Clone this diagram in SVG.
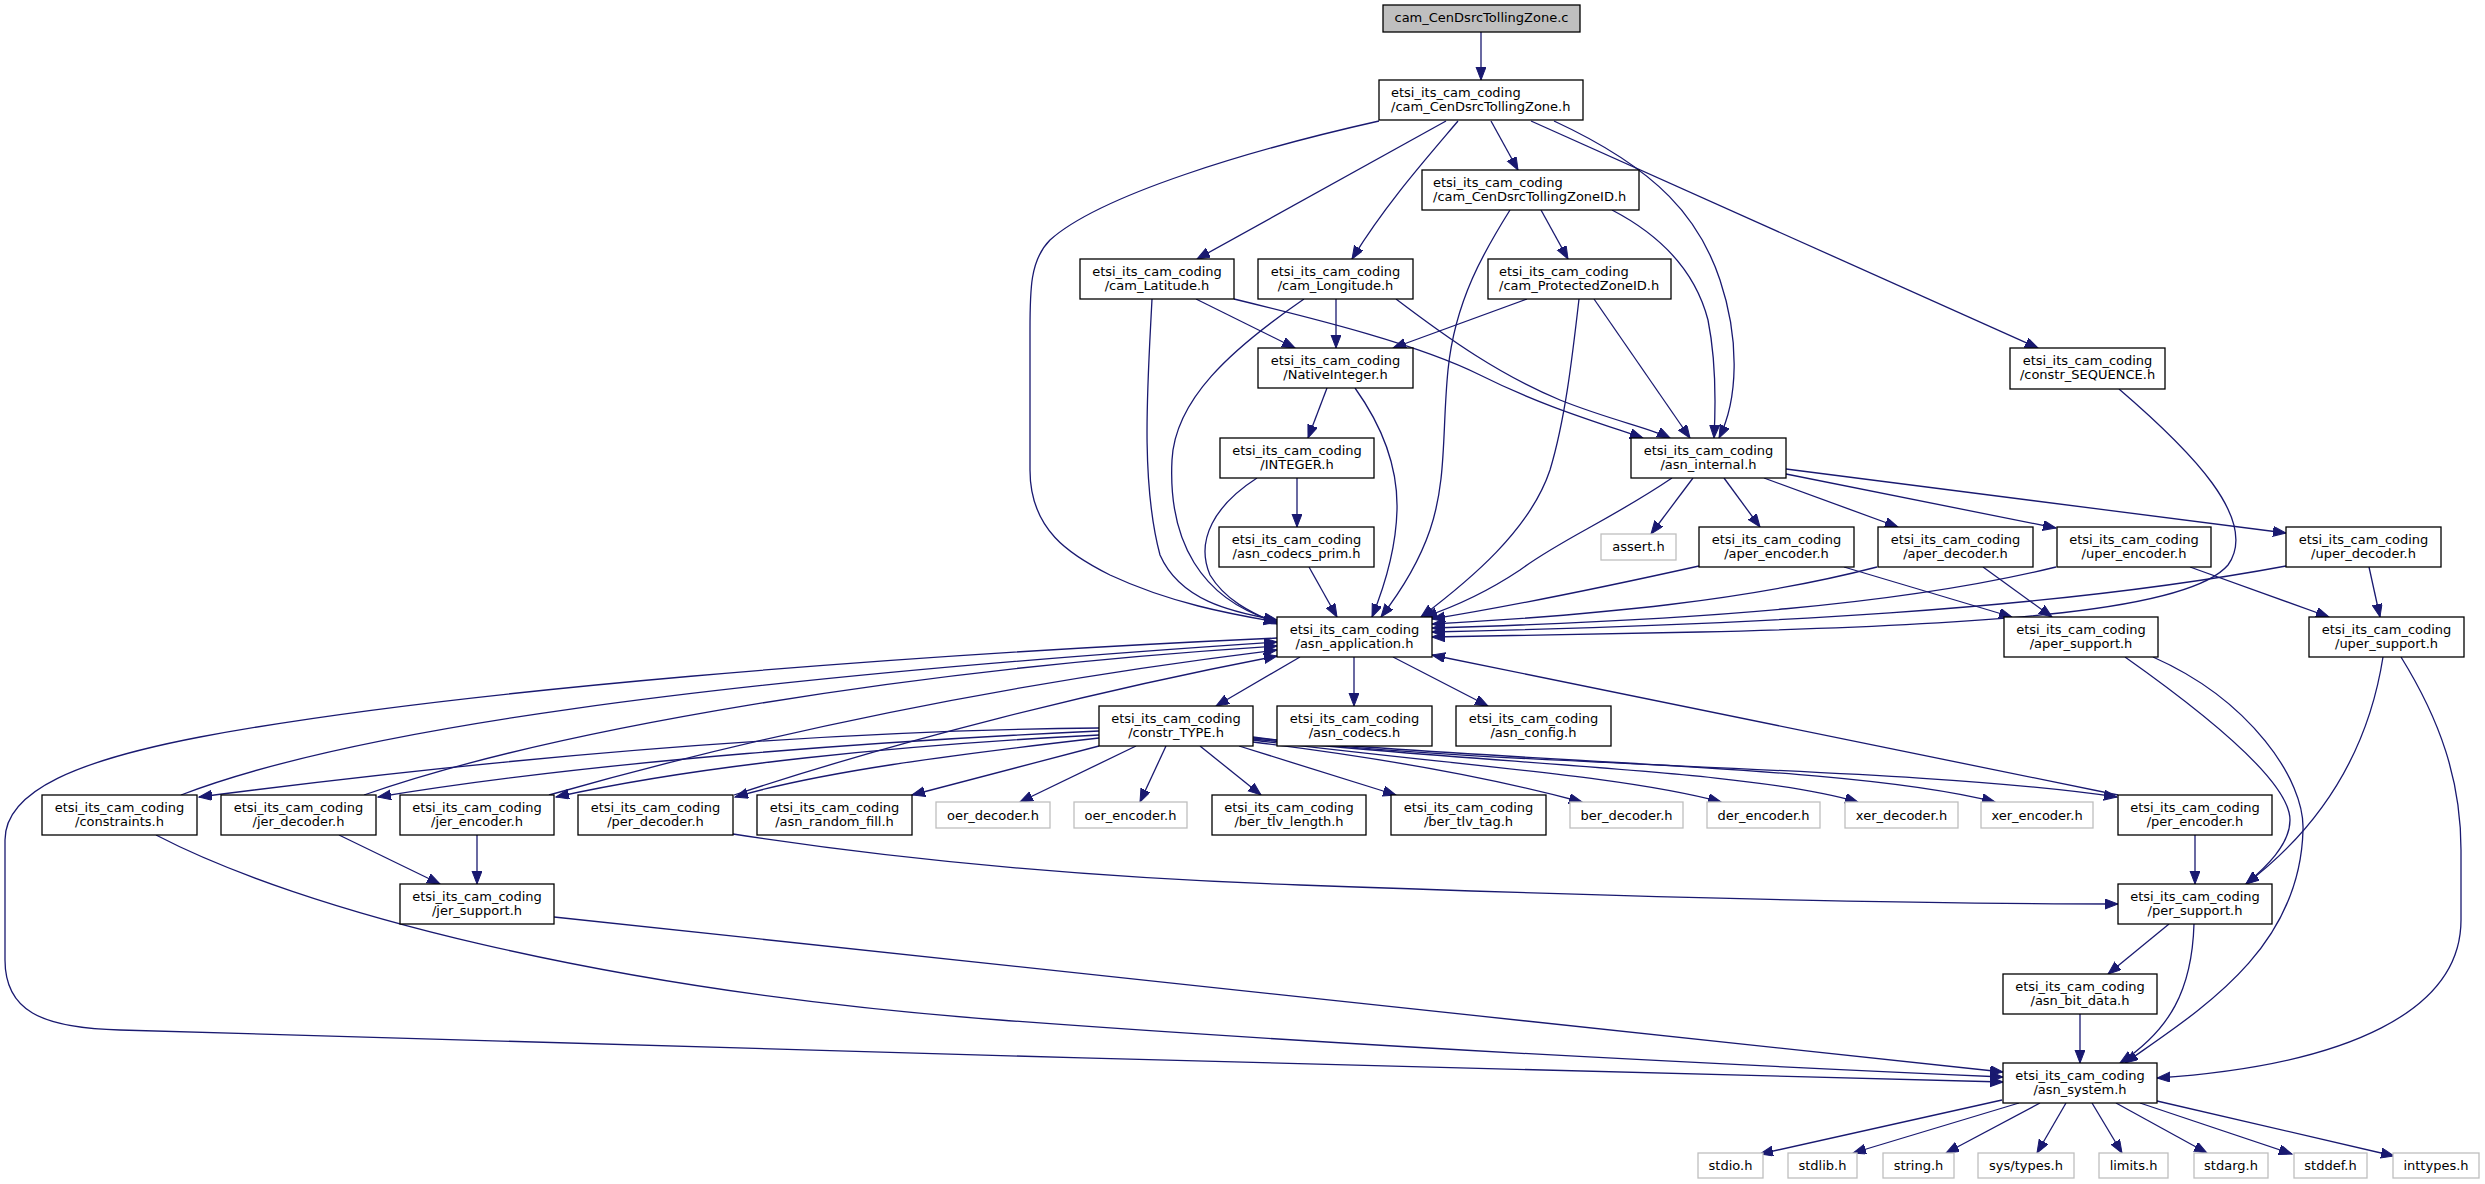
<svg xmlns="http://www.w3.org/2000/svg" width="2485" height="1184" viewBox="0 0 2485 1184">
<style>
.n rect{fill:#ffffff;stroke:#000000;stroke-width:1.3}
.x rect{fill:#ffffff;stroke:#bfbfbf;stroke-width:1.3}
.r rect{fill:#bfbfbf;stroke:#000000;stroke-width:1.3}
text{font-family:"DejaVu Sans","Liberation Sans",sans-serif;font-size:13px;fill:#000000;text-anchor:middle}
text.l{text-anchor:start}
#edges path{fill:none;stroke:#191970;stroke-width:1.3;marker-end:url(#a)}
</style>
<defs>
<marker id="a" markerUnits="userSpaceOnUse" markerWidth="14" markerHeight="11" refX="13" refY="5" orient="auto">
<path d="M0,0 L13,5 L0,10 z" fill="#191970" stroke="#191970" stroke-width="1"/>
</marker>
</defs>
<rect width="2485" height="1184" fill="#ffffff"/>
<g id="edges">
<path d="M1481,32 L1481,80"/>
<path d="M1379,121 C1250,150 1100,195 1050,240 C1030,260 1030,290 1030,330 L1030,470 C1030,530 1070,555 1110,575 C1170,603 1230,614 1277,622"/>
<path d="M1446,121 L1197,259"/>
<path d="M1458,121 C1425,160 1385,205 1352,259"/>
<path d="M1491,121 L1518,170"/>
<path d="M1554,121 C1660,170 1700,220 1720,280 C1740,340 1738,400 1719,438"/>
<path d="M1531,121 L2038,348"/>
<path d="M1510,210 C1485,250 1455,300 1448,370 C1442,430 1447,480 1430,530 C1418,565 1398,595 1381,617"/>
<path d="M1541,210 L1568,259"/>
<path d="M1612,210 C1660,235 1695,270 1708,320 C1716,360 1716,400 1714,438"/>
<path d="M1152,299 C1148,380 1140,480 1160,555 C1180,600 1230,612 1277,620"/>
<path d="M1196,299 L1295,348"/>
<path d="M1234,299 C1320,320 1420,345 1480,375 C1540,405 1590,420 1643,438"/>
<path d="M1304,299 C1230,350 1175,400 1172,460 C1168,540 1200,600 1277,622"/>
<path d="M1336,299 L1336,348"/>
<path d="M1396,299 C1450,340 1500,375 1560,400 C1610,420 1650,428 1670,438"/>
<path d="M1527,299 L1393,348"/>
<path d="M1579,299 C1572,360 1565,420 1550,470 C1530,530 1470,580 1421,617"/>
<path d="M1594,299 L1690,438"/>
<path d="M1327,388 L1308,438"/>
<path d="M1355,388 C1385,430 1398,470 1397,510 C1396,550 1385,585 1372,617"/>
<path d="M1297,478 L1297,527"/>
<path d="M1257,478 C1215,505 1195,540 1210,575 C1225,600 1250,612 1277,624"/>
<path d="M1309,567 L1337,617"/>
<path d="M2119,389 C2190,450 2260,520 2228,565 C2190,610 2000,625 1700,632 C1580,634 1490,636 1432,637"/>
<path d="M1672,478 C1610,520 1560,540 1520,570 C1490,590 1460,605 1424,617"/>
<path d="M1693,478 L1651,534"/>
<path d="M1724,478 L1760,527"/>
<path d="M1764,478 L1898,527"/>
<path d="M1786,474 L2056,528"/>
<path d="M1786,469 L2286,533"/>
<path d="M1699,566 C1600,588 1500,608 1432,619"/>
<path d="M1844,567 L2012,617"/>
<path d="M1877,567 C1750,600 1600,615 1432,624"/>
<path d="M1983,567 L2052,617"/>
<path d="M2056,567 C1900,605 1700,620 1432,628"/>
<path d="M2190,567 L2329,617"/>
<path d="M2286,566 C2050,610 1750,625 1432,632"/>
<path d="M2369,567 L2380,617"/>
<path d="M2125,657 C2200,710 2290,780 2290,820 C2290,845 2265,868 2246,884"/>
<path d="M2153,657 C2250,700 2305,780 2303,830 C2300,950 2200,1010 2125,1063"/>
<path d="M2383,657 C2370,740 2330,820 2246,884"/>
<path d="M2401,657 C2440,720 2461,780 2461,850 L2461,920 C2461,1010 2350,1065 2157,1078"/>
<path d="M1300,657 L1216,706"/>
<path d="M1354,657 L1354,706"/>
<path d="M1393,657 L1488,706"/>
<path d="M1277,638 C900,655 450,690 200,737 C80,760 5,790 5,840 L5,960 C5,1010 40,1028 120,1030 C600,1045 1500,1070 2003,1082"/>
<path d="M1099,728 C900,730 600,745 199,797"/>
<path d="M1099,731 C900,740 600,760 378,797"/>
<path d="M1099,735 C900,745 700,765 556,797"/>
<path d="M1099,738 C950,755 820,772 735,797"/>
<path d="M1099,746 L912,795"/>
<path d="M1136,746 L1020,802"/>
<path d="M1166,746 L1140,802"/>
<path d="M1200,746 L1261,795"/>
<path d="M1239,746 L1396,795"/>
<path d="M1253,742 C1400,760 1500,780 1582,802"/>
<path d="M1253,740 C1450,765 1620,775 1721,802"/>
<path d="M1253,739 C1500,765 1750,770 1858,802"/>
<path d="M1253,738 C1550,765 1850,765 1995,802"/>
<path d="M1253,737 C1500,768 1900,765 2117,797"/>
<path d="M181,795 C350,730 700,680 1277,642"/>
<path d="M156,835 C300,910 600,990 1000,1020 C1400,1050 1800,1068 2003,1077"/>
<path d="M364,795 C550,730 900,670 1277,646"/>
<path d="M339,835 L440,884"/>
<path d="M549,795 C700,752 950,690 1277,650"/>
<path d="M477,835 L477,884"/>
<path d="M734,795 C900,740 1100,690 1277,656"/>
<path d="M733,834 C900,860 1100,878 1300,885 C1600,896 1900,904 2118,904"/>
<path d="M2118,795 L1432,655"/>
<path d="M2195,835 L2195,884"/>
<path d="M554,917 L2003,1072"/>
<path d="M2169,924 L2108,974"/>
<path d="M2194,924 C2192,990 2170,1030 2120,1063"/>
<path d="M2080,1014 L2080,1063"/>
<path d="M2002,1100 L1760,1154"/>
<path d="M2019,1103 L1853,1153"/>
<path d="M2040,1103 L1946,1153"/>
<path d="M2066,1103 L2037,1153"/>
<path d="M2092,1103 L2122,1153"/>
<path d="M2116,1103 L2207,1153"/>
<path d="M2140,1103 L2292,1154"/>
<path d="M2157,1101 L2394,1156"/>
</g>
<g id="node_c" class="r"><rect x="1383" y="5" width="197" height="27"/><text x="1481.5" y="22">cam_CenDsrcTollingZone.c</text></g>
<g id="node_ctz" class="n"><rect x="1379" y="80" width="204" height="40"/><text class="l" x="1391" y="96.5">etsi_its_cam_coding</text><text class="l" x="1391" y="111">/cam_CenDsrcTollingZone.h</text></g>
<g id="node_ctzid" class="n"><rect x="1422" y="170" width="217" height="40"/><text class="l" x="1433" y="186.5">etsi_its_cam_coding</text><text class="l" x="1433" y="201">/cam_CenDsrcTollingZoneID.h</text></g>
<g id="node_lat" class="n"><rect x="1080" y="259" width="154" height="40"/><text x="1157" y="275.5">etsi_its_cam_coding</text><text x="1157" y="290">/cam_Latitude.h</text></g>
<g id="node_lon" class="n"><rect x="1258" y="259" width="155" height="40"/><text x="1335.5" y="275.5">etsi_its_cam_coding</text><text x="1335.5" y="290">/cam_Longitude.h</text></g>
<g id="node_pz" class="n"><rect x="1488" y="259" width="183" height="40"/><text class="l" x="1499" y="275.5">etsi_its_cam_coding</text><text class="l" x="1499" y="290">/cam_ProtectedZoneID.h</text></g>
<g id="node_nat" class="n"><rect x="1258" y="348" width="155" height="40"/><text x="1335.5" y="364.5">etsi_its_cam_coding</text><text x="1335.5" y="379">/NativeInteger.h</text></g>
<g id="node_seq" class="n"><rect x="2010" y="348" width="155" height="41"/><text x="2087.5" y="364.5">etsi_its_cam_coding</text><text x="2087.5" y="379">/constr_SEQUENCE.h</text></g>
<g id="node_integer" class="n"><rect x="1220" y="438" width="154" height="40"/><text x="1297" y="454.5">etsi_its_cam_coding</text><text x="1297" y="469">/INTEGER.h</text></g>
<g id="node_internal" class="n"><rect x="1631" y="438" width="155" height="40"/><text x="1708.5" y="454.5">etsi_its_cam_coding</text><text x="1708.5" y="469">/asn_internal.h</text></g>
<g id="node_codecs_prim" class="n"><rect x="1219" y="527" width="155" height="40"/><text x="1296.5" y="543.5">etsi_its_cam_coding</text><text x="1296.5" y="558">/asn_codecs_prim.h</text></g>
<g id="node_assert" class="x"><rect x="1601" y="534" width="75" height="26"/><text x="1638.5" y="551">assert.h</text></g>
<g id="node_aper_enc" class="n"><rect x="1699" y="527" width="155" height="40"/><text x="1776.5" y="543.5">etsi_its_cam_coding</text><text x="1776.5" y="558">/aper_encoder.h</text></g>
<g id="node_aper_dec" class="n"><rect x="1878" y="527" width="155" height="40"/><text x="1955.5" y="543.5">etsi_its_cam_coding</text><text x="1955.5" y="558">/aper_decoder.h</text></g>
<g id="node_uper_enc" class="n"><rect x="2057" y="527" width="154" height="40"/><text x="2134" y="543.5">etsi_its_cam_coding</text><text x="2134" y="558">/uper_encoder.h</text></g>
<g id="node_uper_dec" class="n"><rect x="2286" y="527" width="155" height="40"/><text x="2363.5" y="543.5">etsi_its_cam_coding</text><text x="2363.5" y="558">/uper_decoder.h</text></g>
<g id="node_app" class="n"><rect x="1277" y="617" width="155" height="40"/><text x="1354.5" y="633.5">etsi_its_cam_coding</text><text x="1354.5" y="648">/asn_application.h</text></g>
<g id="node_aper_sup" class="n"><rect x="2004" y="617" width="154" height="40"/><text x="2081" y="633.5">etsi_its_cam_coding</text><text x="2081" y="648">/aper_support.h</text></g>
<g id="node_uper_sup" class="n"><rect x="2309" y="617" width="155" height="40"/><text x="2386.5" y="633.5">etsi_its_cam_coding</text><text x="2386.5" y="648">/uper_support.h</text></g>
<g id="node_constr_type" class="n"><rect x="1099" y="706" width="154" height="40"/><text x="1176" y="722.5">etsi_its_cam_coding</text><text x="1176" y="737">/constr_TYPE.h</text></g>
<g id="node_asn_codecs" class="n"><rect x="1277" y="706" width="155" height="40"/><text x="1354.5" y="722.5">etsi_its_cam_coding</text><text x="1354.5" y="737">/asn_codecs.h</text></g>
<g id="node_asn_config" class="n"><rect x="1456" y="706" width="155" height="40"/><text x="1533.5" y="722.5">etsi_its_cam_coding</text><text x="1533.5" y="737">/asn_config.h</text></g>
<g id="node_constraints" class="n"><rect x="42" y="795" width="155" height="40"/><text x="119.5" y="811.5">etsi_its_cam_coding</text><text x="119.5" y="826">/constraints.h</text></g>
<g id="node_jer_dec" class="n"><rect x="221" y="795" width="155" height="40"/><text x="298.5" y="811.5">etsi_its_cam_coding</text><text x="298.5" y="826">/jer_decoder.h</text></g>
<g id="node_jer_enc" class="n"><rect x="400" y="795" width="154" height="40"/><text x="477" y="811.5">etsi_its_cam_coding</text><text x="477" y="826">/jer_encoder.h</text></g>
<g id="node_per_dec" class="n"><rect x="578" y="795" width="155" height="40"/><text x="655.5" y="811.5">etsi_its_cam_coding</text><text x="655.5" y="826">/per_decoder.h</text></g>
<g id="node_rand_fill" class="n"><rect x="757" y="795" width="155" height="40"/><text x="834.5" y="811.5">etsi_its_cam_coding</text><text x="834.5" y="826">/asn_random_fill.h</text></g>
<g id="node_oer_dec" class="x"><rect x="936" y="802" width="114" height="26"/><text x="993" y="819.5">oer_decoder.h</text></g>
<g id="node_oer_enc" class="x"><rect x="1074" y="802" width="113" height="26"/><text x="1130.5" y="819.5">oer_encoder.h</text></g>
<g id="node_ber_len" class="n"><rect x="1212" y="795" width="154" height="40"/><text x="1289" y="811.5">etsi_its_cam_coding</text><text x="1289" y="826">/ber_tlv_length.h</text></g>
<g id="node_ber_tag" class="n"><rect x="1391" y="795" width="155" height="40"/><text x="1468.5" y="811.5">etsi_its_cam_coding</text><text x="1468.5" y="826">/ber_tlv_tag.h</text></g>
<g id="node_ber_dec" class="x"><rect x="1570" y="802" width="113" height="26"/><text x="1626.5" y="819.5">ber_decoder.h</text></g>
<g id="node_der_enc" class="x"><rect x="1707" y="802" width="113" height="26"/><text x="1763.5" y="819.5">der_encoder.h</text></g>
<g id="node_xer_dec" class="x"><rect x="1845" y="802" width="113" height="26"/><text x="1901.5" y="819.5">xer_decoder.h</text></g>
<g id="node_xer_enc" class="x"><rect x="1981" y="802" width="112" height="26"/><text x="2037" y="819.5">xer_encoder.h</text></g>
<g id="node_per_enc" class="n"><rect x="2118" y="795" width="154" height="40"/><text x="2195" y="811.5">etsi_its_cam_coding</text><text x="2195" y="826">/per_encoder.h</text></g>
<g id="node_jer_sup" class="n"><rect x="400" y="884" width="154" height="40"/><text x="477" y="900.5">etsi_its_cam_coding</text><text x="477" y="915">/jer_support.h</text></g>
<g id="node_per_sup" class="n"><rect x="2118" y="884" width="154" height="40"/><text x="2195" y="900.5">etsi_its_cam_coding</text><text x="2195" y="915">/per_support.h</text></g>
<g id="node_bit_data" class="n"><rect x="2003" y="974" width="154" height="40"/><text x="2080" y="990.5">etsi_its_cam_coding</text><text x="2080" y="1005">/asn_bit_data.h</text></g>
<g id="node_asn_system" class="n"><rect x="2003" y="1063" width="154" height="40"/><text x="2080" y="1079.5">etsi_its_cam_coding</text><text x="2080" y="1094">/asn_system.h</text></g>
<g id="node_stdio" class="x"><rect x="1698" y="1153" width="65" height="25"/><text x="1730.5" y="1170">stdio.h</text></g>
<g id="node_stdlib" class="x"><rect x="1788" y="1153" width="69" height="25"/><text x="1822.5" y="1170">stdlib.h</text></g>
<g id="node_string" class="x"><rect x="1883" y="1153" width="71" height="25"/><text x="1918.5" y="1170">string.h</text></g>
<g id="node_systypes" class="x"><rect x="1978" y="1153" width="96" height="25"/><text x="2026" y="1170">sys/types.h</text></g>
<g id="node_limits" class="x"><rect x="2099" y="1153" width="69" height="25"/><text x="2133.5" y="1170">limits.h</text></g>
<g id="node_stdarg" class="x"><rect x="2194" y="1153" width="74" height="25"/><text x="2231" y="1170">stdarg.h</text></g>
<g id="node_stddef" class="x"><rect x="2294" y="1153" width="73" height="25"/><text x="2330.5" y="1170">stddef.h</text></g>
<g id="node_inttypes" class="x"><rect x="2393" y="1153" width="86" height="25"/><text x="2436" y="1170">inttypes.h</text></g>
</svg>
